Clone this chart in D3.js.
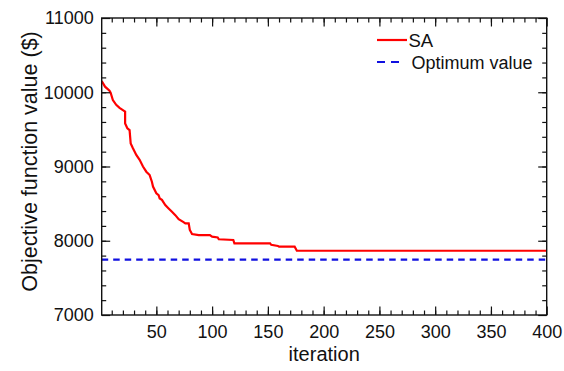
<!DOCTYPE html>
<html><head><meta charset="utf-8">
<script src="https://cdn.jsdelivr.net/npm/d3@7"></script>
<style>body{margin:0;background:#fff}svg{display:block}text{font-family:"Liberation Sans",Arial,sans-serif;fill:#111}</style>
</head><body>
<svg id="c" width="564" height="371"></svg>
<script>
const iterations = [1,4,8,9,11,14,17,20,22,22,24,26,27,29,32,35,38,41,44,46,47,50,52,53,55,58,61,64,67,70,74,76,79,80,82,88,98,100,105,106,119,120,152,153,159,160,174,176,400];
const saValues = [10150,10075,10020,9995,9895,9830,9790,9760,9740,9580,9515,9490,9310,9245,9155,9090,9000,8930,8885,8795,8730,8640,8615,8570,8550,8480,8435,8390,8345,8290,8255,8235,8235,8145,8090,8075,8075,8055,8045,8020,8010,7965,7965,7945,7930,7920,7920,7865,7865];
const optimumValue = 7745;
const xTickLabels = [50,100,150,200,250,300,350,400];
const yTickLabels = [7000,8000,9000,10000,11000];
const seriesNames = ["SA","Optimum value"];

const svg = d3.select("#c");
const L = 101.7, R = 546.7, T = 18, B = 315;
const x = d3.scaleLinear().domain([1,400]).range([L,R]);
const y = d3.scaleLinear().domain([7000,11000]).range([B,T]);

svg.append("clipPath").attr("id","pc").append("rect")
  .attr("x",L).attr("y",T).attr("width",R-L).attr("height",B-T);

const g = svg.append("g").attr("clip-path","url(#pc)");
g.append("line").attr("x1",x(1)).attr("x2",x(400)).attr("y1",y(optimumValue)).attr("y2",y(optimumValue))
  .attr("stroke","#1010e0").attr("stroke-width",2.2).attr("stroke-dasharray","6.5,5");
const line = d3.line().x((d,i)=>x(iterations[i])).y(d=>y(d));
g.append("path").attr("d",line(saValues)).attr("fill","none").attr("stroke","#ff0000").attr("stroke-width",2.2);

const minorX = d3.range(10,400,10), minorY = d3.range(7200,11000,200);
const ax = (gen, tr) => svg.append("g").attr("transform",tr).call(gen);
function styleAxis(sel){ sel.select(".domain").remove(); sel.selectAll("line").attr("stroke","#111").attr("stroke-width",1.2); }
ax(d3.axisBottom(x).tickValues(minorX).tickSize(-4.5).tickFormat(""),`translate(0,${B})`).call(styleAxis);
ax(d3.axisTop(x).tickValues(minorX).tickSize(-4.5).tickFormat(""),`translate(0,${T})`).call(styleAxis);
ax(d3.axisLeft(y).tickValues(minorY).tickSize(-4.5).tickFormat(""),`translate(${L},0)`).call(styleAxis);
ax(d3.axisRight(y).tickValues(minorY).tickSize(-4.5).tickFormat(""),`translate(${R},0)`).call(styleAxis);
ax(d3.axisBottom(x).tickValues(xTickLabels).tickSize(-8.5).tickPadding(10).tickFormat(d3.format("d")),`translate(0,${B})`).call(styleAxis);
ax(d3.axisTop(x).tickValues(xTickLabels).tickSize(-8.5).tickFormat(""),`translate(0,${T})`).call(styleAxis);
ax(d3.axisLeft(y).tickValues(yTickLabels).tickSize(-8.5).tickPadding(8).tickFormat(d3.format("d")),`translate(${L},0)`).call(styleAxis);
ax(d3.axisRight(y).tickValues(yTickLabels).tickSize(-8.5).tickFormat(""),`translate(${R},0)`).call(styleAxis);
svg.selectAll(".tick text").attr("font-size",18).attr("font-family","'Liberation Sans',Arial,sans-serif").attr("fill","#111");
svg.append("rect").attr("x",L).attr("y",T).attr("width",R-L).attr("height",B-T).attr("fill","none").attr("stroke","#111").attr("stroke-width",1.4);

svg.append("text").attr("x",(L+R)/2).attr("y",361).attr("text-anchor","middle").attr("font-size",20).text("iteration");
svg.append("text").attr("transform",`translate(37,${(T+B)/2-5}) rotate(-90)`).attr("text-anchor","middle").attr("font-size",21.5).text("Objective function value ($)");

const lg = svg.append("g");
lg.append("line").attr("x1",377).attr("x2",407).attr("y1",40).attr("y2",40).attr("stroke","#ff0000").attr("stroke-width",2.2);
lg.append("line").attr("x1",377).attr("x2",401).attr("y1",62).attr("y2",62).attr("stroke","#1010e0").attr("stroke-width",2.2).attr("stroke-dasharray","8,6");
lg.append("text").attr("x",408.5).attr("y",46.5).attr("font-size",18.5).text(seriesNames[0]);
lg.append("text").attr("x",411.5).attr("y",68.5).attr("font-size",18).text(seriesNames[1]);
</script>
</body></html>
